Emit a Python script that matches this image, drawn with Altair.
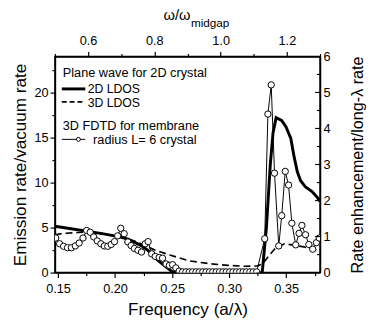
import altair as alt
import pandas as pd

# ---------------- data ----------------
x_domain = [0.1473, 0.3797]
left_domain = [0, 24]
right_domain = [0, 6]
top_domain = [0.5, 1.3]

# 3D FDTD, radius L = 6 crystal (right axis units)
fdtd_f = [0.1480, 0.1514, 0.1549, 0.1583, 0.1617, 0.1651, 0.1685, 0.1719, 0.1751, 0.1782,
          0.1813, 0.1844, 0.1876, 0.1906, 0.1936, 0.1966, 0.1995, 0.2023, 0.2050, 0.2080,
          0.2112, 0.2141, 0.2170, 0.2201, 0.2232, 0.2264, 0.2290, 0.2321, 0.2352, 0.2387,
          0.2416, 0.2447, 0.2476, 0.2504, 0.2533, 0.2562,
          0.2592, 0.2621, 0.2651, 0.2680, 0.2710, 0.2739, 0.2769, 0.2798, 0.2828, 0.2857,
          0.2887, 0.2916, 0.2946, 0.2975, 0.3005, 0.3034, 0.3064, 0.3093, 0.3123, 0.3152,
          0.3182, 0.3211, 0.3241,
          0.3312, 0.3340, 0.3369, 0.3398, 0.3435, 0.3461, 0.3492, 0.3521, 0.3550, 0.3584,
          0.3613, 0.3638, 0.3670, 0.3699, 0.3733, 0.3765, 0.3790]
fdtd_r = [0.96, 0.80, 0.73, 0.69, 0.69, 0.74, 0.82, 0.96, 1.17, 1.12,
          0.99, 0.88, 0.80, 0.74, 0.73, 0.78, 0.86, 1.02, 1.23, 1.08,
          0.85, 0.75, 0.67, 0.62, 0.57, 0.80, 0.86, 0.52, 0.45, 0.42,
          0.40, 0.24, 0.20, 0.22, 0.13, 0.04,
          0.02, 0.02, 0.02, 0.02, 0.02, 0.02, 0.02, 0.02, 0.02, 0.02,
          0.02, 0.02, 0.02, 0.02, 0.02, 0.02, 0.02, 0.02, 0.02, 0.02,
          0.02, 0.02, 0.02,
          0.94, 4.40, 5.21, 2.76, 0.74, 1.58, 2.81, 2.43, 1.37, 0.77,
          1.09, 1.31, 1.05, 0.78, 0.65, 0.83, 0.96]

# Plane wave 2D LDOS (left axis units)
ldos2d_f = [0.1473, 0.1600, 0.1750, 0.1900, 0.2030, 0.2120, 0.2190, 0.2230, 0.2290,
            0.2340, 0.2400, 0.2450, 0.2490, 0.2520, 0.3290, 0.3327, 0.3361, 0.3385,
            0.3412, 0.3460, 0.3498, 0.3541, 0.3569, 0.3598, 0.3627, 0.3670, 0.3727,
            0.3770, 0.3797]
ldos2d_v = [5.15, 4.90, 4.60, 4.30, 4.00, 3.70, 3.25, 3.00, 2.45,
            1.75, 1.10, 0.60, 0.20, 0.00, 0.00, 5.00, 12.0, 15.5,
            17.2, 16.9, 16.2, 14.9, 12.9, 11.2, 10.2, 9.5, 9.0,
            8.4, 7.9]

# Plane wave 3D LDOS (left axis units)
ldos3d_f = [0.1473, 0.1520, 0.1600, 0.1680, 0.1766, 0.1850, 0.1937, 0.2066, 0.2195,
            0.2340, 0.2480, 0.2650, 0.2820, 0.2990, 0.3140, 0.3250, 0.3295, 0.3338,
            0.3398, 0.3484, 0.3570, 0.3655, 0.3767, 0.3797]
ldos3d_v = [4.20, 4.30, 4.40, 4.45, 4.55, 4.40, 4.20, 3.90, 3.40,
            2.55, 1.95, 1.30, 1.00, 0.80, 0.70, 0.75, 1.00, 1.70,
            2.60, 3.20, 3.05, 2.85, 2.50, 2.40]

bottom_ticks = [0.15, 0.175, 0.2, 0.225, 0.25, 0.275, 0.3, 0.325, 0.35, 0.375]
left_ticks = [0, 2.5, 5, 7.5, 10, 12.5, 15, 17.5, 20, 22.5]
right_major = [1, 2, 3, 4, 5]
right_minor = [0.5, 1.5, 2.5, 3.5, 4.5, 5.5]
right_labels = [0, 1, 2, 3, 4, 5, 6]
top_ticks = [0.5, 0.6, 0.7, 0.8, 0.9, 1.0, 1.1, 1.2, 1.3]

legend_header1 = "Plane wave for 2D crystal"
legend_2d = "2D LDOS"
legend_3d = "3D LDOS"
legend_header2 = "3D FDTD for membrane"
legend_fdtd = "radius L= 6 crystal"

# ---------------- chart ----------------
FONT = "Liberation Sans"
W, H = 271, 221

xs = alt.Scale(domain=x_domain, nice=False, zero=False)
ls = alt.Scale(domain=left_domain, nice=False, zero=False)
rs = alt.Scale(domain=right_domain, nice=False, zero=False)
ts = alt.Scale(domain=top_domain, nice=False, zero=False)


def cond(test, major, minor):
    return {"condition": {"test": test, "value": major}, "value": minor}


bottom_test = "abs(datum.value*20 - round(datum.value*20)) < 0.001"
bottom_axis = alt.Axis(
    orient="bottom", values=bottom_ticks, title="Frequency (a/λ)",
    labelExpr=f"{bottom_test} ? format(datum.value, '.2f') : ''",
    tickSize=cond(bottom_test, 5, 3), labelPadding=5, titlePadding=6,
    labelOverlap=False, labelFlush=False, grid=False,
)
left_test = "datum.value % 5 == 0"
left_axis = alt.Axis(
    orient="left", values=left_ticks, title="Emission rate/vacuum rate",
    labelExpr=f"{left_test} ? format(datum.value, 'd') : ''",
    tickSize=cond(left_test, 5, 3), labelPadding=2, titlePadding=5,
    labelOverlap=False, labelFlush=False, grid=False,
)
right_axis = alt.Axis(
    orient="right", values=right_labels, title="Rate enhancement/long-λ rate",
    format="d", ticks=False, labelPadding=3, titlePadding=20,
    titleAngle=270, titleBaseline="top", titleFontSize=16.5,
    labelOverlap=False, labelFlush=False, grid=False,
)
top_test = "abs(datum.value*5 - round(datum.value*5)) < 0.001"
top_axis = alt.Axis(
    orient="top", values=top_ticks, title=None,
    labelExpr=f"{top_test} ? format(datum.value, '.1f') : ''",
    tickSize=cond(top_test, 5, 3), labelPadding=4,
    labelOverlap=False, labelFlush=False, grid=False,
)

df2d = pd.DataFrame({"f": ldos2d_f, "v": ldos2d_v})
df3d = pd.DataFrame({"f": ldos3d_f, "v": ldos3d_v})
dff = pd.DataFrame({"f": fdtd_f, "r": fdtd_r})
one = pd.DataFrame({"a": [0]})

l2d = alt.Chart(df2d).mark_line(color="black", strokeWidth=3, clip=True).encode(
    x=alt.X("f:Q", scale=xs, axis=bottom_axis),
    y=alt.Y("v:Q", scale=ls, axis=left_axis),
)
l3d = alt.Chart(df3d).mark_line(color="black", strokeWidth=1.7, strokeDash=[7, 4], clip=True).encode(
    x=alt.X("f:Q", scale=xs, axis=None),
    y=alt.Y("v:Q", scale=ls, axis=None),
)
fline = alt.Chart(dff).mark_line(color="black", strokeWidth=1, clip=True).encode(
    x=alt.X("f:Q", scale=xs, axis=None),
    y=alt.Y("r:Q", scale=rs, axis=right_axis),
)
fpts = alt.Chart(dff).mark_point(
    shape="circle", filled=True, fill="white", stroke="black", strokeWidth=1,
    size=42, opacity=1, clip=True,
).encode(
    x=alt.X("f:Q", scale=xs, axis=None),
    y=alt.Y("r:Q", scale=rs, axis=None),
)

rmaj = alt.Chart(pd.DataFrame({"t": right_major})).mark_rule(color="black", strokeWidth=1.2).encode(
    y=alt.Y("t:Q", scale=rs, axis=None), x=alt.value(W - 5), x2=alt.value(W),
)
rmin = alt.Chart(pd.DataFrame({"t": right_minor})).mark_rule(color="black", strokeWidth=1.2).encode(
    y=alt.Y("t:Q", scale=rs, axis=None), x=alt.value(W - 3), x2=alt.value(W),
)

top = alt.Chart(pd.DataFrame({"w": top_domain})).mark_point(opacity=0).encode(
    x=alt.X("w:Q", scale=ts, axis=top_axis),
)


def txt(s, x, y, size=13):
    return alt.Chart(one).mark_text(
        text=s, align="left", baseline="alphabetic", fontSize=size, font=FONT, color="black",
    ).encode(x=alt.value(x), y=alt.value(y))


leg = [
    txt(legend_header1, 8, 21),
    alt.Chart(one).mark_rule(color="black", strokeWidth=3).encode(
        x=alt.value(7), x2=alt.value(31), y=alt.value(33.2)),
    txt(legend_2d, 33.5, 37, 12.5),
    alt.Chart(one).mark_rule(color="black", strokeWidth=1.7, strokeDash=[5, 3]).encode(
        x=alt.value(7), x2=alt.value(31), y=alt.value(46.5)),
    txt(legend_3d, 33.5, 51.5, 12.5),
    txt(legend_header2, 8, 75),
    alt.Chart(one).mark_rule(color="black", strokeWidth=1).encode(
        x=alt.value(7), x2=alt.value(31), y=alt.value(84.8)),
    alt.Chart(one).mark_point(shape="circle", filled=True, fill="white", stroke="black",
                              strokeWidth=1, size=16, opacity=1).encode(
        x=alt.value(24), y=alt.value(84.8)),
    txt(legend_fdtd, 39, 89.5),
    txt("ω/ω", 111, -37, 15),
    txt("midgap", 139, -30.5, 12),
]

chart = alt.layer(l3d, l2d, fline, fpts, rmaj, rmin, top, *leg).resolve_scale(
    x="independent", y="independent"
).properties(
    width=W, height=H,
    autosize=alt.AutoSizeParams(type="none"),
    padding={"left": 48, "top": 46, "right": 47, "bottom": 47},
).configure_view(
    stroke="black", strokeWidth=1.5,
).configure_axis(
    labelFont=FONT, titleFont=FONT, labelFontSize=13, titleFontSize=17.5,
    labelColor="black", titleColor="black", titleFontWeight="normal",
    domainColor="black", domainWidth=1.5, tickColor="black", tickWidth=1.2,
)

chart.save("out.html", embed_options={"renderer": "svg", "actions": False})
